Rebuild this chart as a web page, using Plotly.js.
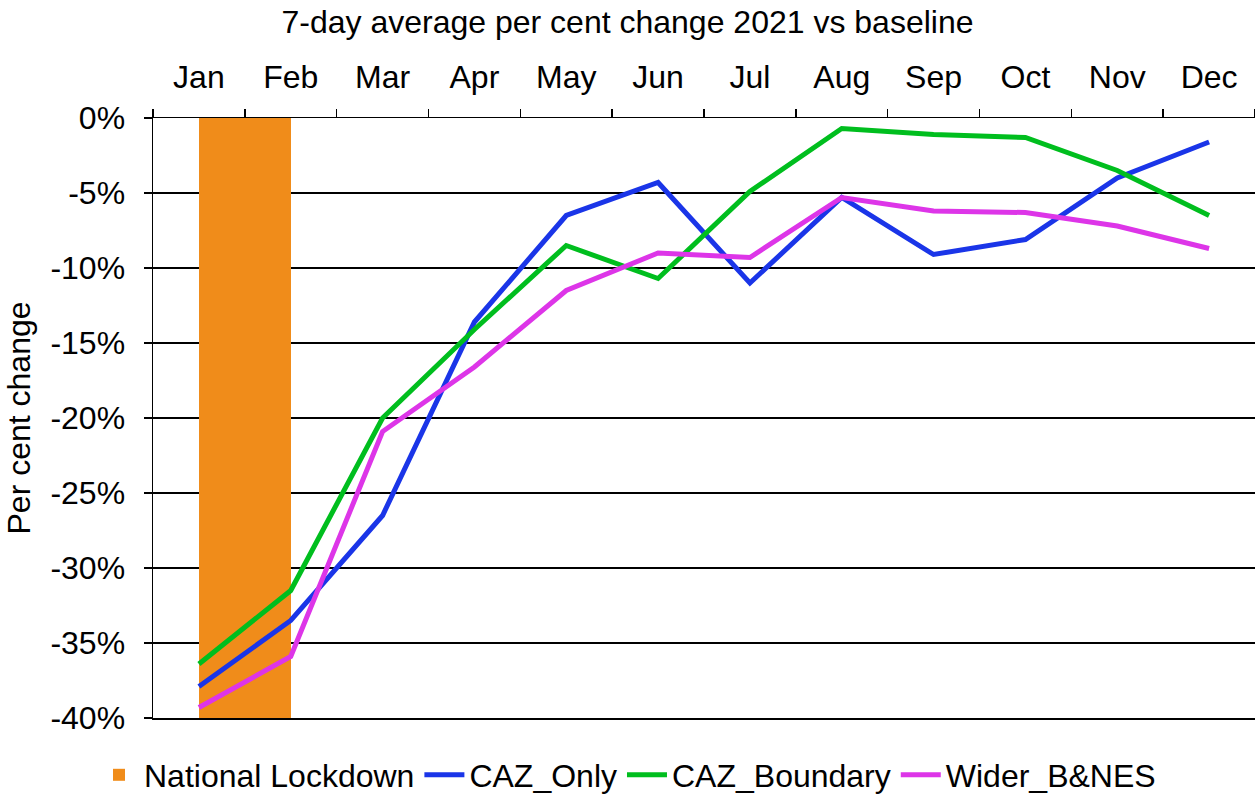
<!DOCTYPE html>
<html>
<head>
<meta charset="utf-8">
<script src="https://cdn.plot.ly/plotly-3.0.1.min.js"></script>
<style>
  html, body { margin: 0; padding: 0; background: #fff; }
  #chart { width: 1255px; height: 794px; }
</style>
</head>
<body>
<div id="chart"></div>
<script>
// months along the top axis
var months = ["Jan", "Feb", "Mar", "Apr", "May", "Jun", "Jul", "Aug", "Sep", "Oct", "Nov", "Dec"];

// per cent change vs baseline
var cazOnly = [-37.9, -33.5, -26.5, -13.6, -6.5, -4.3, -11.0, -5.3, -9.1, -8.1, -4.0, -1.6];
var cazBoundary = [-36.4, -31.5, -20.0, -14.1, -8.5, -10.7, -4.9, -0.7, -1.1, -1.3, -3.5, -6.5];
var widerBnes = [-39.3, -35.9, -20.9, -16.6, -11.5, -9.0, -9.3, -5.3, -6.2, -6.3, -7.2, -8.7];

// lockdown block runs Jan -> Feb, full depth of the axis
var lockdownMonths = ["Jan"];
var lockdownDepth = [-40];

// y ticks (plain hyphen like the original, not a unicode minus)
var yTickVals = [0, -5, -10, -15, -20, -25, -30, -35, -40];
var yTickText = ["0%", "-5%", "-10%", "-15%", "-20%", "-25%", "-30%", "-35%", "-40%"];

var font = "Liberation Sans, Arial, Helvetica, sans-serif";
var fs = 32;

var data = [
  {
    type: "bar",
    name: "National Lockdown",
    x: lockdownMonths,
    y: lockdownDepth,
    offset: 0,
    width: 1,
    marker: { color: "#F08C1A", line: { width: 0 } },
    hoverinfo: "name"
  },
  {
    type: "scatter",
    mode: "lines",
    name: "CAZ_Only",
    x: months,
    y: cazOnly,
    line: { color: "#1A35E8", width: 5 }
  },
  {
    type: "scatter",
    mode: "lines",
    name: "CAZ_Boundary",
    x: months,
    y: cazBoundary,
    line: { color: "#00BE1E", width: 5 }
  },
  {
    type: "scatter",
    mode: "lines",
    name: "Wider_B&NES",
    x: months,
    y: widerBnes,
    line: { color: "#DD35E8", width: 5 }
  }
];

var layout = {
  width: 1255,
  height: 794,
  margin: { l: 153, r: 0, t: 118, b: 76 },
  paper_bgcolor: "#fff",
  plot_bgcolor: "#fff",
  font: { family: font, size: fs, color: "#000" },
  title: {
    text: "7-day average per cent change 2021 vs baseline",
    font: { family: font, size: fs, color: "#000" },
    x: 0.5,
    xanchor: "center",
    xref: "container",
    y: 1 - 22 / 794,
    yref: "container",
    yanchor: "middle"
  },
  showlegend: true,
  legend: {
    orientation: "h",
    x: 0.5,
    xanchor: "center",
    xref: "container",
    y: 1 - 775 / 794,
    yref: "container",
    yanchor: "middle",
    font: { family: font, size: fs, color: "#000" },
    traceorder: "normal",
    itemwidth: 40
  },
  bargap: 0,
  xaxis: {
    type: "category",
    side: "top",
    showgrid: false,
    showline: true,
    linecolor: "#000",
    linewidth: 1.5,
    mirror: true,
    ticks: "outside",
    tickson: "boundaries",
    ticklen: 8,
    tickcolor: "#000",
    tickwidth: 1.5,
    ticklabelstandoff: 16,
    zeroline: false,
    range: [-0.5, 11.5],
    fixedrange: true
  },
  yaxis: {
    range: [-40, 0],
    tickmode: "array",
    tickvals: yTickVals,
    ticktext: yTickText,
    showgrid: true,
    gridcolor: "#000",
    gridwidth: 1.8,
    zeroline: false,
    showline: true,
    linecolor: "#000",
    linewidth: 1.5,
    ticks: "outside",
    ticklen: 8,
    tickcolor: "#000",
    tickwidth: 1.5,
    ticklabelstandoff: 12,
    title: {
      text: "Per cent change",
      font: { family: font, size: fs, color: "#000" },
      standoff: 10
    },
    automargin: false,
    fixedrange: true
  }
};

Plotly.newPlot("chart", data, layout, { displayModeBar: false, staticPlot: true });
</script>
</body>
</html>
